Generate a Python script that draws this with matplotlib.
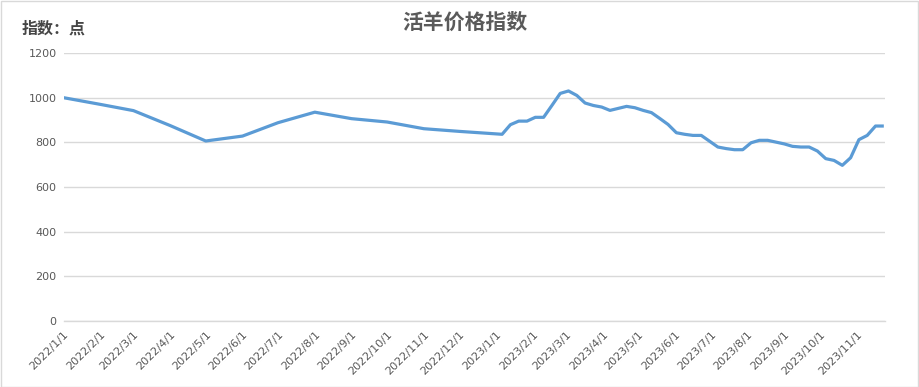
import matplotlib
matplotlib.use("Agg")
import matplotlib.pyplot as plt
from matplotlib.patches import Rectangle
import pandas as pd

plt.rcParams['font.family'] = ['Noto Sans CJK SC', 'DejaVu Sans']

dates_monthly = ['2022-01-01', '2022-02-01', '2022-03-01', '2022-04-01', '2022-05-01',
                 '2022-06-01', '2022-07-01', '2022-08-01', '2022-09-01', '2022-10-01',
                 '2022-11-01', '2022-12-01']
values_monthly = [1000, 970, 942, 875, 806, 828, 888, 935, 906, 891, 861, 849]

dates_weekly = ['2023-01-06', '2023-01-13', '2023-01-20', '2023-01-27',
                '2023-02-03', '2023-02-10', '2023-02-17', '2023-02-24',
                '2023-03-03', '2023-03-10', '2023-03-17', '2023-03-24', '2023-03-31',
                '2023-04-07', '2023-04-14', '2023-04-21', '2023-04-28',
                '2023-05-05', '2023-05-12', '2023-05-19', '2023-05-26',
                '2023-06-02', '2023-06-09', '2023-06-16', '2023-06-23', '2023-06-30',
                '2023-07-07', '2023-07-14', '2023-07-21', '2023-07-28',
                '2023-08-04', '2023-08-11', '2023-08-18', '2023-08-25',
                '2023-09-01', '2023-09-08', '2023-09-15', '2023-09-22', '2023-09-29',
                '2023-10-06', '2023-10-13', '2023-10-20', '2023-10-27',
                '2023-11-03', '2023-11-10', '2023-11-17', '2023-11-24']
values_weekly = [836, 879, 895, 895, 912, 912, 965, 1019, 1030, 1010,
                 976, 965, 958, 943, 952, 961, 955, 943, 933, 907,
                 880, 843, 836, 831, 831, 805, 779, 772, 767, 767,
                 798, 809, 809, 801, 793, 782, 779, 779, 761, 727,
                 719, 697, 731, 812, 831, 873, 873]

tick_dates = ['2022-01-01', '2022-02-01', '2022-03-01', '2022-04-01', '2022-05-01',
              '2022-06-01', '2022-07-01', '2022-08-01', '2022-09-01', '2022-10-01',
              '2022-11-01', '2022-12-01', '2023-01-01', '2023-02-01', '2023-03-01',
              '2023-04-01', '2023-05-01', '2023-06-01', '2023-07-01', '2023-08-01',
              '2023-09-01', '2023-10-01', '2023-11-01']
tick_labels = ['2022/1/1', '2022/2/1', '2022/3/1', '2022/4/1', '2022/5/1', '2022/6/1',
               '2022/7/1', '2022/8/1', '2022/9/1', '2022/10/1', '2022/11/1', '2022/12/1',
               '2023/1/1', '2023/2/1', '2023/3/1', '2023/4/1', '2023/5/1', '2023/6/1',
               '2023/7/1', '2023/8/1', '2023/9/1', '2023/10/1', '2023/11/1']
y_ticks = [0, 200, 400, 600, 800, 1000, 1200]

x = pd.to_datetime(dates_monthly + dates_weekly)
y = values_monthly + values_weekly

fig = plt.figure(figsize=(9.19, 3.87), dpi=100)
ax = fig.add_axes([63.5 / 919, 1 - 321 / 387, (885 - 63.5) / 919, (321 - 53) / 387])

ax.plot(x, y, color='#5b9bd5', lw=2.3, solid_joinstyle='round', solid_capstyle='butt', zorder=3)

ax.set_xlim(pd.Timestamp('2022-01-01'), pd.Timestamp('2023-11-25'))
ax.set_ylim(0, 1200)
ax.set_yticks(y_ticks)
ax.set_yticklabels([str(v) for v in y_ticks], fontsize=8, color='#595959', family='DejaVu Sans')
ax.set_xticks(pd.to_datetime(tick_dates))
ax.set_xticklabels(tick_labels, rotation=45, ha='right', rotation_mode='anchor',
                   fontsize=8, color='#595959', family='DejaVu Sans')
ax.tick_params(axis='both', length=0, pad=5)
ax.tick_params(axis='x', pad=6)

ax.grid(axis='y', color='#d9d9d9', lw=1)
ax.set_axisbelow(True)
for s in ['left', 'right', 'top']:
    ax.spines[s].set_visible(False)
ax.spines['bottom'].set_color('#d9d9d9')
ax.spines['bottom'].set_linewidth(1)

fig.text(465 / 919, 1 - 22 / 387, '活羊价格指数', ha='center', va='center',
         fontsize=15, fontweight='bold', color='#5a5a5a')
fig.text(22 / 919, 1 - 29 / 387, '指数：点', ha='left', va='center',
         fontsize=11.5, fontweight='bold', color='#454545')

fig.patches.append(Rectangle((0.5 / 919, 0.5 / 387), 1 - 1.5 / 919, 1 - 1.5 / 387,
                             transform=fig.transFigure, fill=False,
                             edgecolor='#d9d9d9', lw=1))

fig.savefig('out.png', dpi=100, facecolor='white')
